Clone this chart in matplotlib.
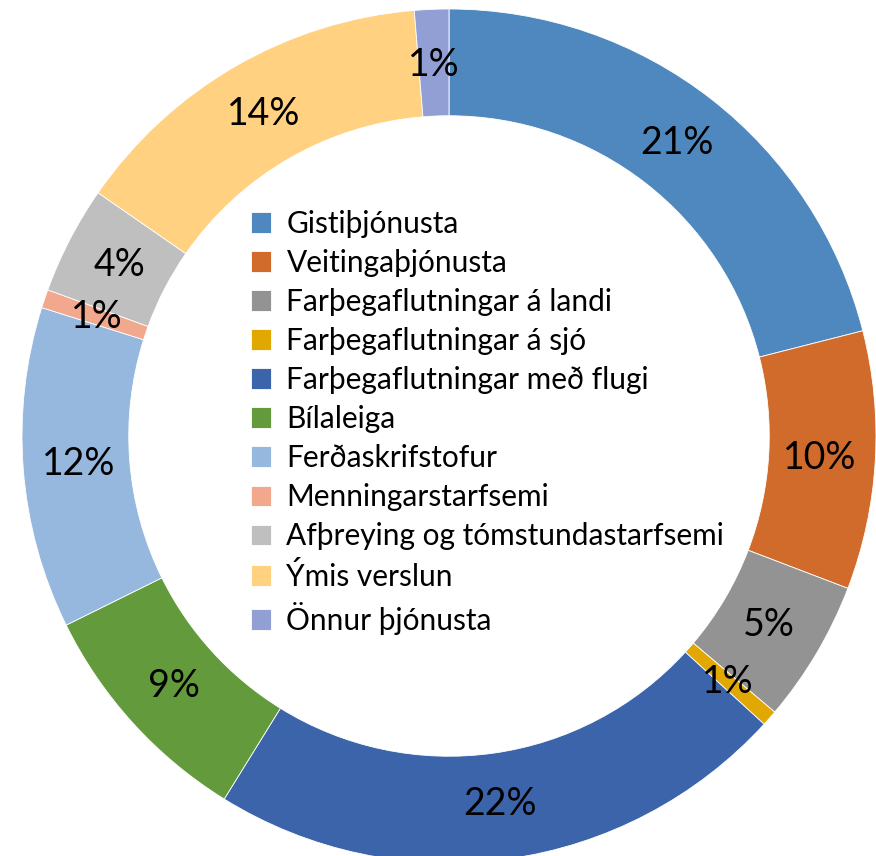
import matplotlib.pyplot as plt
import numpy as np

categories = ['Gistiþjónusta', 'Veitingaþjónusta', 'Farþegaflutningar á landi',
              'Farþegaflutningar á sjó', 'Farþegaflutningar með flugi', 'Bílaleiga',
              'Ferðaskrifstofur', 'Menningarstarfsemi', 'Afþreying og tómstundastarfsemi',
              'Ýmis verslun', 'Önnur þjónusta']
shares = [21.1, 9.8, 5.4, 0.6, 22.1, 8.9, 12.2, 0.7, 4.1, 14.1, 1.3]
colors = ['#4F88BE', '#D16B2B', '#939393', '#E0A800', '#3C64AA', '#629A3C',
          '#96B8DE', '#F1A88D', '#BFBFBF', '#FFD181', '#929FD5']

plt.rcParams['font.family'] = ['Lato', 'DejaVu Sans']

fig = plt.figure(figsize=(8.76, 8.56), dpi=100)
ax = fig.add_axes([22/876, (856-863)/856, 854/876, 854/856])

wedges, _ = ax.pie(shares, colors=colors, startangle=90, counterclock=False,
                   radius=1.0, wedgeprops=dict(width=0.25, edgecolor='white', linewidth=0.6))

for w, v in zip(wedges, shares):
    ang = np.deg2rad((w.theta1 + w.theta2) / 2)
    r = 0.87
    ax.text(r*np.cos(ang), r*np.sin(ang), '%.0f%%' % v, ha='center', va='center',
            fontsize=27, color='black')

ax.legend(wedges, categories, loc='center', bbox_to_anchor=(0.545, 0.516),
          frameon=False, fontsize=21.5, handlelength=0.7, handleheight=0.7,
          handletextpad=0.5, labelspacing=0.37)

ax.set_xlim(-1, 1)
ax.set_ylim(-1, 1)
ax.set_aspect('equal')
ax.axis('off')

fig.savefig('out.png', dpi=100)
